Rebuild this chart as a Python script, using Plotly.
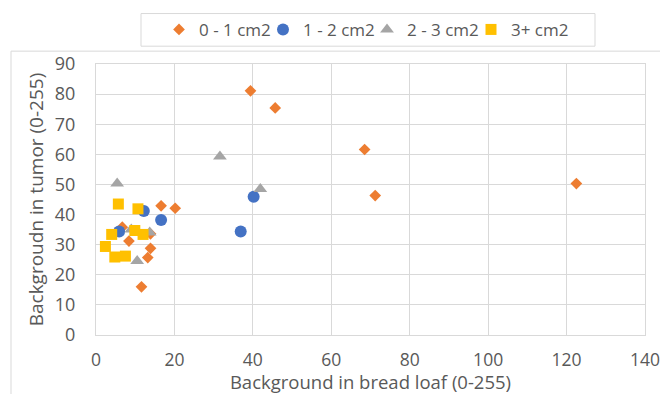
import plotly.graph_objects as go

# Background intensity (0-255) measured in the bread loaf (x) and in the tumor (y),
# grouped by tumor area.
area_0_1_x = [39.4, 45.7, 68.5, 71.2, 122.5, 16.6, 20.2, 6.7, 8.4, 13.9, 13.9, 13.2, 11.6]
area_0_1_y = [81.1, 75.4, 61.6, 46.3, 50.3, 42.9, 42.1, 35.8, 31.2, 33.6, 28.8, 25.7, 16.0]

area_1_2_x = [40.2, 36.9, 12.2, 16.6, 5.9]
area_1_2_y = [45.9, 34.4, 41.2, 38.2, 34.4]

area_2_3_x = [31.6, 41.9, 5.4, 13.7, 9.0, 10.5]
area_2_3_y = [59.3, 48.5, 50.3, 34.0, 35.0, 24.6]

area_3p_x = [5.7, 10.7, 4.0, 9.9, 12.0, 2.4, 4.8, 7.5]
area_3p_y = [43.5, 41.9, 33.4, 34.7, 33.4, 29.4, 25.9, 26.2]

series_names = ["0 - 1 cm2", "1 - 2 cm2", "2 - 3 cm2", "3+ cm2"]
x_ticks = [0, 20, 40, 60, 80, 100, 120, 140]
y_ticks = [0, 10, 20, 30, 40, 50, 60, 70, 80, 90]

FONT = "Open Sans"
TEXT = "#595959"
GRID = "#D9D9D9"

W, H = 660, 394
L, R, T, B = 96, 15, 61, 59
PW, PH = W - L - R, H - T - B


def px_x(p):
    return (p - L) / PW


def px_y(p):
    return (H - B - p) / PH


styles = [
    dict(symbol="diamond", color="#ED7D31", size=9),
    dict(symbol="circle", color="#4472C4", size=12),
    dict(symbol="triangle-up", color="#A5A5A5", size=12),
    dict(symbol="square", color="#FFC000", size=11),
]
data = [
    (area_0_1_x, area_0_1_y),
    (area_1_2_x, area_1_2_y),
    (area_2_3_x, area_2_3_y),
    (area_3p_x, area_3p_y),
]

fig = go.Figure()
for name, (xs, ys), st in zip(series_names, data, styles):
    fig.add_trace(go.Scatter(
        x=xs, y=ys, mode="markers", name=name,
        marker=dict(symbol=st["symbol"], color=st["color"], size=st["size"],
                    line=dict(width=0)),
    ))

axis_common = dict(
    showgrid=True, gridcolor=GRID, gridwidth=1.3,
    zeroline=False, showline=True, linecolor=GRID, linewidth=1.3,
    ticks="", automargin=False,
)

fig.update_xaxes(
    range=[0, 140], tickvals=x_ticks, ticklabelstandoff=9,
    ticklabeloverflow="allow",
    tickfont=dict(family=FONT, size=17.5, color=TEXT),
    title=dict(text="Background in bread loaf (0-255)", standoff=0,
               font=dict(family=FONT, size=18.5, color=TEXT)),
    mirror=True, **axis_common,
)
fig.update_yaxes(
    range=[0, 90], tickvals=y_ticks, ticklabelstandoff=16,
    tickfont=dict(family=FONT, size=18, color=TEXT),
    title=dict(text="Backgroudn in tumor (0-255)", standoff=6,
               font=dict(family=FONT, size=19, color=TEXT)),
    mirror=True, **axis_common,
)

fig.update_layout(
    width=W, height=H,
    margin=dict(l=L, r=R, t=T, b=B, pad=0),
    paper_bgcolor="white", plot_bgcolor="white",
    font=dict(family=FONT, color=TEXT),
    showlegend=True,
    legend=dict(
        orientation="h", x=px_x(159), xanchor="left",
        y=px_y(26.5), yanchor="middle",
        font=dict(family=FONT, size=17, color=TEXT),
        bgcolor="rgba(0,0,0,0)", borderwidth=0,
        itemwidth=30, entrywidth=59, traceorder="normal",
    ),
    shapes=[
        # chart frame
        dict(type="rect", xref="paper", yref="paper",
             x0=px_x(11), x1=px_x(668), y0=px_y(400), y1=px_y(48),
             line=dict(color=GRID, width=1), fillcolor="rgba(0,0,0,0)", layer="below"),
        # legend frame
        dict(type="rect", xref="paper", yref="paper",
             x0=px_x(141), x1=px_x(595), y0=px_y(43), y1=px_y(10),
             line=dict(color=GRID, width=1), fillcolor="rgba(0,0,0,0)", layer="below"),
    ],
)

fig.write_html("out.html")
